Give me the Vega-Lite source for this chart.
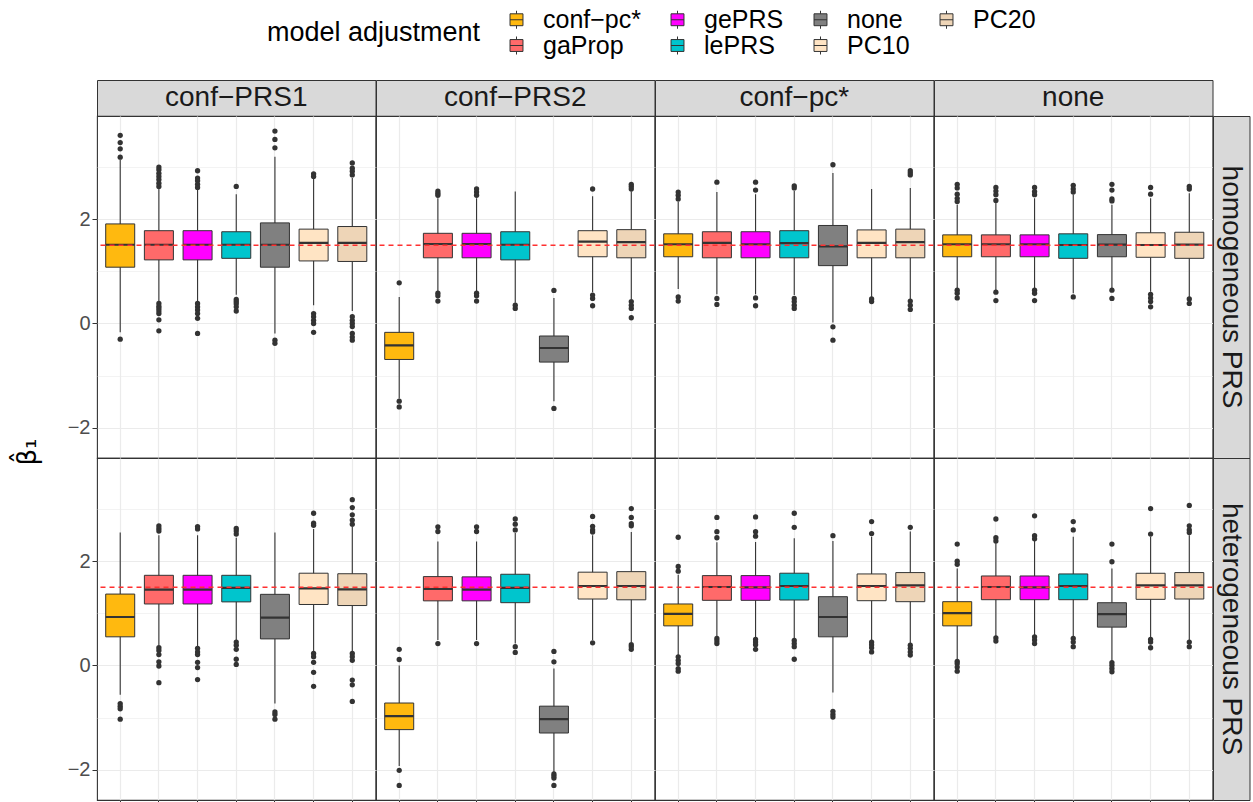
{
"$schema": "https://vega.github.io/schema/vega-lite/v6.json",
"background": "white",
"padding": {"left": 14, "top": 7, "right": 4, "bottom": 0},
"bounds": "flush",
"align": "each",
"columns": 5,
"spacing": 0,
"resolve": {"scale": {"color": "shared"}},
"datasets": {
"boxes": [
{"prs":"hom","conf":"conf-PRS1","adj":"conf-pc*","lo":-0.17,"q1":1.08,"med":1.51,"q3":1.91,"hi":3.14,"out":[3.61,3.47,3.35,3.19,-0.30]},
{"prs":"hom","conf":"conf-PRS1","adj":"gaProp","lo":0.42,"q1":1.22,"med":1.51,"q3":1.78,"hi":2.58,"out":[3.0,2.95,2.88,2.82,2.76,2.69,2.63,0.385,0.33,0.29,0.24,0.19,0.07,-0.14]},
{"prs":"hom","conf":"conf-PRS1","adj":"gePRS","lo":0.43,"q1":1.22,"med":1.51,"q3":1.78,"hi":2.56,"out":[2.93,2.79,2.74,2.67,2.61,0.385,0.32,0.26,0.19,0.10,-0.19]},
{"prs":"hom","conf":"conf-PRS1","adj":"lePRS","lo":0.55,"q1":1.25,"med":1.51,"q3":1.76,"hi":2.48,"out":[2.63,0.46,0.42,0.38,0.32,0.24]},
{"prs":"hom","conf":"conf-PRS1","adj":"none","lo":-0.19,"q1":1.08,"med":1.51,"q3":1.93,"hi":3.2,"out":[3.69,3.53,3.37,-0.32,-0.38]},
{"prs":"hom","conf":"conf-PRS1","adj":"PC10","lo":0.35,"q1":1.2,"med":1.545,"q3":1.81,"hi":2.79,"out":[2.87,2.82,0.19,0.13,0.06,0.0,-0.17]},
{"prs":"hom","conf":"conf-PRS1","adj":"PC20","lo":0.24,"q1":1.19,"med":1.545,"q3":1.86,"hi":2.79,"out":[3.08,2.98,2.92,2.85,0.13,0.06,0.0,-0.06,-0.19,-0.26,-0.32]},
{"prs":"hom","conf":"conf-PRS2","adj":"conf-pc*","lo":-1.44,"q1":-0.69,"med":-0.42,"q3":-0.17,"hi":0.51,"out":[0.78,-1.49,-1.60]},
{"prs":"hom","conf":"conf-PRS2","adj":"gaProp","lo":0.61,"q1":1.26,"med":1.525,"q3":1.73,"hi":2.40,"out":[2.54,2.50,2.46,0.58,0.53,0.43]},
{"prs":"hom","conf":"conf-PRS2","adj":"gePRS","lo":0.61,"q1":1.26,"med":1.525,"q3":1.73,"hi":2.40,"out":[2.58,2.52,2.46,0.58,0.53,0.43]},
{"prs":"hom","conf":"conf-PRS2","adj":"lePRS","lo":0.40,"q1":1.22,"med":1.51,"q3":1.76,"hi":2.53,"out":[0.35,0.29]},
{"prs":"hom","conf":"conf-PRS2","adj":"none","lo":-1.49,"q1":-0.74,"med":-0.47,"q3":-0.24,"hi":0.49,"out":[0.635,-1.63]},
{"prs":"hom","conf":"conf-PRS2","adj":"PC10","lo":0.60,"q1":1.28,"med":1.57,"q3":1.78,"hi":2.44,"out":[2.58,0.545,0.48,0.34]},
{"prs":"hom","conf":"conf-PRS2","adj":"PC20","lo":0.47,"q1":1.26,"med":1.56,"q3":1.80,"hi":2.53,"out":[2.67,2.63,2.58,0.42,0.35,0.29,0.11]},
{"prs":"hom","conf":"conf-pc*","adj":"conf-pc*","lo":0.66,"q1":1.28,"med":1.52,"q3":1.72,"hi":2.34,"out":[2.52,2.46,2.39,0.51,0.43]},
{"prs":"hom","conf":"conf-pc*","adj":"gaProp","lo":0.56,"q1":1.26,"med":1.545,"q3":1.76,"hi":2.52,"out":[2.71,0.48,0.365]},
{"prs":"hom","conf":"conf-pc*","adj":"gePRS","lo":0.56,"q1":1.26,"med":1.52,"q3":1.76,"hi":2.48,"out":[2.71,2.56,0.49,0.34]},
{"prs":"hom","conf":"conf-pc*","adj":"lePRS","lo":0.545,"q1":1.26,"med":1.54,"q3":1.78,"hi":2.545,"out":[2.64,2.60,0.48,0.42,0.35,0.29]},
{"prs":"hom","conf":"conf-pc*","adj":"none","lo":0.02,"q1":1.11,"med":1.48,"q3":1.88,"hi":2.885,"out":[3.045,-0.064,-0.32]},
{"prs":"hom","conf":"conf-pc*","adj":"PC10","lo":0.51,"q1":1.26,"med":1.545,"q3":1.795,"hi":2.58,"out":[0.47,0.42]},
{"prs":"hom","conf":"conf-pc*","adj":"PC20","lo":0.47,"q1":1.26,"med":1.56,"q3":1.81,"hi":2.6,"out":[2.93,2.89,2.85,0.43,0.35,0.27]},
{"prs":"hom","conf":"none","adj":"conf-pc*","lo":0.67,"q1":1.28,"med":1.52,"q3":1.70,"hi":2.28,"out":[2.67,2.6,2.48,2.4,2.34,0.64,0.58,0.49]},
{"prs":"hom","conf":"none","adj":"gaProp","lo":0.64,"q1":1.28,"med":1.52,"q3":1.70,"hi":2.33,"out":[2.61,2.54,2.47,2.36,0.6,0.44]},
{"prs":"hom","conf":"none","adj":"gePRS","lo":0.67,"q1":1.28,"med":1.52,"q3":1.70,"hi":2.4,"out":[2.61,2.53,2.47,0.64,0.58,0.44]},
{"prs":"hom","conf":"none","adj":"lePRS","lo":0.58,"q1":1.25,"med":1.506,"q3":1.72,"hi":2.47,"out":[2.65,2.58,2.52,0.51]},
{"prs":"hom","conf":"none","adj":"none","lo":0.67,"q1":1.28,"med":1.513,"q3":1.705,"hi":2.28,"out":[2.67,2.56,2.39,2.35,0.64,0.48]},
{"prs":"hom","conf":"none","adj":"PC10","lo":0.61,"q1":1.27,"med":1.506,"q3":1.74,"hi":2.4,"out":[2.61,2.48,0.56,0.49,0.42,0.32]},
{"prs":"hom","conf":"none","adj":"PC20","lo":0.51,"q1":1.25,"med":1.513,"q3":1.75,"hi":2.5,"out":[2.63,2.58,0.47,0.385]},
{"prs":"het","conf":"conf-PRS1","adj":"conf-pc*","lo":-0.56,"q1":0.55,"med":0.93,"q3":1.37,"hi":2.55,"out":[-0.73,-0.78,-0.83,-1.03]},
{"prs":"het","conf":"conf-PRS1","adj":"gaProp","lo":0.39,"q1":1.18,"med":1.455,"q3":1.73,"hi":2.5,"out":[2.68,2.63,2.58,0.34,0.29,0.21,0.07,-0.01,-0.33]},
{"prs":"het","conf":"conf-PRS1","adj":"gePRS","lo":0.36,"q1":1.18,"med":1.455,"q3":1.73,"hi":2.5,"out":[2.665,2.62,0.33,0.26,0.21,0.06,-0.04,-0.27]},
{"prs":"het","conf":"conf-PRS1","adj":"lePRS","lo":0.49,"q1":1.22,"med":1.487,"q3":1.73,"hi":2.45,"out":[2.63,2.58,2.52,0.45,0.39,0.31,0.12,0.02]},
{"prs":"het","conf":"conf-PRS1","adj":"none","lo":-0.73,"q1":0.51,"med":0.92,"q3":1.365,"hi":2.55,"out":[-0.89,-0.94,-1.03]},
{"prs":"het","conf":"conf-PRS1","adj":"PC10","lo":0.26,"q1":1.17,"med":1.48,"q3":1.77,"hi":2.62,"out":[2.92,2.73,2.69,0.23,0.17,0.06,-0.13,-0.4]},
{"prs":"het","conf":"conf-PRS1","adj":"PC20","lo":0.26,"q1":1.15,"med":1.46,"q3":1.76,"hi":2.67,"out":[3.18,3.03,2.89,2.79,2.71,0.23,0.17,0.1,-0.28,-0.37,-0.69]},
{"prs":"het","conf":"conf-PRS2","adj":"conf-pc*","lo":-1.93,"q1":-1.23,"med":-0.97,"q3":-0.72,"hi":0.0,"out":[0.31,0.115,-2.01,-2.3]},
{"prs":"het","conf":"conf-PRS2","adj":"gaProp","lo":0.49,"q1":1.24,"med":1.467,"q3":1.705,"hi":2.38,"out":[2.66,2.57,0.42]},
{"prs":"het","conf":"conf-PRS2","adj":"gePRS","lo":0.49,"q1":1.24,"med":1.455,"q3":1.70,"hi":2.38,"out":[2.66,2.57,0.42]},
{"prs":"het","conf":"conf-PRS2","adj":"lePRS","lo":0.42,"q1":1.205,"med":1.487,"q3":1.75,"hi":2.54,"out":[2.81,2.71,2.6,0.36,0.25]},
{"prs":"het","conf":"conf-PRS2","adj":"none","lo":-2.05,"q1":-1.295,"med":-1.03,"q3":-0.78,"hi":-0.06,"out":[0.27,0.07,-2.08,-2.12,-2.16,-2.3]},
{"prs":"het","conf":"conf-PRS2","adj":"PC10","lo":0.49,"q1":1.275,"med":1.525,"q3":1.79,"hi":2.5,"out":[2.86,2.67,2.6,2.56,0.435]},
{"prs":"het","conf":"conf-PRS2","adj":"PC20","lo":0.45,"q1":1.26,"med":1.525,"q3":1.8,"hi":2.56,"out":[3.01,2.84,2.72,2.68,0.4,0.36,0.31]},
{"prs":"het","conf":"conf-pc*","adj":"conf-pc*","lo":0.2,"q1":0.76,"med":0.99,"q3":1.18,"hi":1.74,"out":[2.46,1.9,1.81,0.166,0.1,0.04,-0.06,-0.11]},
{"prs":"het","conf":"conf-pc*","adj":"gaProp","lo":0.55,"q1":1.25,"med":1.506,"q3":1.724,"hi":2.365,"out":[2.84,2.566,2.45,0.52,0.47,0.42]},
{"prs":"het","conf":"conf-pc*","adj":"gePRS","lo":0.52,"q1":1.25,"med":1.5,"q3":1.724,"hi":2.37,"out":[2.85,2.566,2.48,0.5,0.45,0.4,0.31]},
{"prs":"het","conf":"conf-pc*","adj":"lePRS","lo":0.52,"q1":1.256,"med":1.525,"q3":1.77,"hi":2.44,"out":[2.92,2.65,0.48,0.42,0.36,0.12]},
{"prs":"het","conf":"conf-pc*","adj":"none","lo":-0.52,"q1":0.55,"med":0.93,"q3":1.32,"hi":2.39,"out":[2.49,-0.88,-0.94,-0.99]},
{"prs":"het","conf":"conf-pc*","adj":"PC10","lo":0.49,"q1":1.243,"med":1.525,"q3":1.756,"hi":2.47,"out":[2.76,2.53,0.45,0.4,0.34,0.26]},
{"prs":"het","conf":"conf-pc*","adj":"PC20","lo":0.42,"q1":1.224,"med":1.538,"q3":1.782,"hi":2.57,"out":[2.65,0.39,0.33,0.26,0.2]},
{"prs":"het","conf":"none","adj":"conf-pc*","lo":0.12,"q1":0.76,"med":1.006,"q3":1.224,"hi":1.86,"out":[2.33,2.0,1.94,0.08,0.04,-0.03,-0.11]},
{"prs":"het","conf":"none","adj":"gaProp","lo":0.55,"q1":1.262,"med":1.506,"q3":1.717,"hi":2.365,"out":[2.81,2.45,2.39,0.53,0.47]},
{"prs":"het","conf":"none","adj":"gePRS","lo":0.58,"q1":1.262,"med":1.5,"q3":1.717,"hi":2.39,"out":[2.87,2.49,2.43,0.55,0.49,0.42]},
{"prs":"het","conf":"none","adj":"lePRS","lo":0.55,"q1":1.262,"med":1.525,"q3":1.756,"hi":2.47,"out":[2.76,2.6,0.52,0.45,0.36]},
{"prs":"het","conf":"none","adj":"none","lo":0.08,"q1":0.736,"med":0.987,"q3":1.204,"hi":1.86,"out":[2.33,1.99,0.057,0.006,-0.058,-0.12]},
{"prs":"het","conf":"none","adj":"PC10","lo":0.53,"q1":1.269,"med":1.538,"q3":1.769,"hi":2.47,"out":[3.01,2.52,0.5,0.45,0.34]},
{"prs":"het","conf":"none","adj":"PC20","lo":0.49,"q1":1.275,"med":1.538,"q3":1.782,"hi":2.5,"out":[3.07,2.68,2.6,2.55,0.45,0.36]}
]
},
"concat": [
{"width":278.5,"height":36,"data":{"values":[{"label":"conf−PRS1"}]},"mark":{"type":"text","fontSize":28,"color":"#1A1A1A"},"encoding":{"text":{"field":"label","type":"nominal"}},"view":{"fill":"#D9D9D9","stroke":"#333333"}},
{"width":278.5,"height":36,"data":{"values":[{"label":"conf−PRS2"}]},"mark":{"type":"text","fontSize":28,"color":"#1A1A1A"},"encoding":{"text":{"field":"label","type":"nominal"}},"view":{"fill":"#D9D9D9","stroke":"#333333"}},
{"width":278.5,"height":36,"data":{"values":[{"label":"conf−pc*"}]},"mark":{"type":"text","fontSize":28,"color":"#1A1A1A"},"encoding":{"text":{"field":"label","type":"nominal"}},"view":{"fill":"#D9D9D9","stroke":"#333333"}},
{"width":278.5,"height":36,"data":{"values":[{"label":"none"}]},"mark":{"type":"text","fontSize":28,"color":"#1A1A1A"},"encoding":{"text":{"field":"label","type":"nominal"}},"view":{"fill":"#D9D9D9","stroke":"#333333"}},
{"width":36.5,"height":36,"data":{"values":[{"label":""}]},"mark":{"type":"text"},"encoding":{"text":{"field":"label","type":"nominal"}},"view":{"stroke":null}},

{"width":278.5,"height":342,"data":{"name":"boxes"},"transform":[{"filter":"datum.prs === 'hom' && datum.conf === 'conf-PRS1'"}],
"layer":[
{"mark":{"type":"rule","color":"#333333","strokeWidth":1.1},"encoding":{"x":{"field":"adj","type":"nominal","title":null,"scale":{"domain":["conf-pc*","gaProp","gePRS","lePRS","none","PC10","PC20"],"paddingInner":0.25,"paddingOuter":0.225},"axis":{"labels":false,"ticks":false,"grid":true,"gridWidth":1.2}},"y":{"field":"lo","type":"quantitative","scale":{"domain":[-2.58,3.98],"nice":false,"zero":false},"axis":{"values":[-2,-1,0,1,2,3],"grid":true,"labelExpr":"datum.value % 2 === 0 ? datum.label : ''","tickOpacity":{"condition":{"test":"datum.value % 2 !== 0","value":0},"value":1},"gridWidth":{"condition":{"test":"datum.value % 2 !== 0","value":0.6},"value":1.2},"title":null}},"y2":{"field":"hi"}}},
{"mark":{"type":"bar","stroke":"#333333","strokeWidth":1},"encoding":{"x":{"field":"adj","type":"nominal","scale":{"domain":["conf-pc*","gaProp","gePRS","lePRS","none","PC10","PC20"],"paddingInner":0.25,"paddingOuter":0.225}},"y":{"field":"q1","type":"quantitative","scale":{"domain":[-2.58,3.98],"nice":false,"zero":false}},"y2":{"field":"q3"},"color":{"field":"adj","type":"nominal","title":"model adjustment","scale":{"domain":["conf-pc*","gePRS","none","PC20","gaProp","lePRS","PC10"],"range":["#FFB90F","#FF00FF","#808080","#EED5B7","#FF6A6A","#00C5CD","#FFE4C4"]},"legend":{"labelExpr":"replace(datum.label, '-', '−')"}}}},
{"mark":{"type":"bar","stroke":"#333333","strokeWidth":2.2,"fillOpacity":0},"encoding":{"x":{"field":"adj","type":"nominal","scale":{"domain":["conf-pc*","gaProp","gePRS","lePRS","none","PC10","PC20"],"paddingInner":0.25,"paddingOuter":0.225}},"y":{"field":"med","type":"quantitative","scale":{"domain":[-2.58,3.98],"nice":false,"zero":false}},"y2":{"field":"med"}}},
{"transform":[{"flatten":["out"]}],"mark":{"type":"point","shape":"circle","filled":true,"color":"#333333","size":28,"opacity":1},"encoding":{"x":{"field":"adj","type":"nominal","scale":{"domain":["conf-pc*","gaProp","gePRS","lePRS","none","PC10","PC20"],"paddingInner":0.25,"paddingOuter":0.225}},"y":{"field":"out","type":"quantitative","scale":{"domain":[-2.58,3.98],"nice":false,"zero":false}}}},
{"transform":[{"filter":"datum.adj === 'conf-pc*'"}],"mark":{"type":"rule","color":"#FF3030","strokeDash":[5,4],"strokeWidth":1.5},"encoding":{"y":{"datum":1.5,"type":"quantitative","scale":{"domain":[-2.58,3.98],"nice":false,"zero":false}}}},
{"transform":[{"filter":"datum.adj === 'conf-pc*'"}],"mark":{"type":"text","angle":270,"font":"DejaVu Sans","fontSize":26,"color":"#000000","align":"center","baseline":"middle","dx":6,"dy":-92},"encoding":{"text":{"value":"β̂₁"},"x":{"field":"adj","type":"nominal","scale":{"domain":["conf-pc*","gaProp","gePRS","lePRS","none","PC10","PC20"],"paddingInner":0.25,"paddingOuter":0.225}},"y":{"datum":-2.58,"type":"quantitative","scale":{"domain":[-2.58,3.98],"nice":false,"zero":false}}}}
]},

{"width":278.5,"height":342,"data":{"name":"boxes"},"transform":[{"filter":"datum.prs === 'hom' && datum.conf === 'conf-PRS2'"}],
"layer":[
{"mark":{"type":"rule","color":"#333333","strokeWidth":1.1},"encoding":{"x":{"field":"adj","type":"nominal","title":null,"scale":{"domain":["conf-pc*","gaProp","gePRS","lePRS","none","PC10","PC20"],"paddingInner":0.25,"paddingOuter":0.225},"axis":{"labels":false,"ticks":false,"grid":true,"gridWidth":1.2}},"y":{"field":"lo","type":"quantitative","scale":{"domain":[-2.58,3.98],"nice":false,"zero":false},"axis":{"values":[-2,-1,0,1,2,3],"grid":true,"labels":false,"ticks":false,"gridWidth":{"condition":{"test":"datum.value % 2 !== 0","value":0.6},"value":1.2},"title":null}},"y2":{"field":"hi"}}},
{"mark":{"type":"bar","stroke":"#333333","strokeWidth":1},"encoding":{"x":{"field":"adj","type":"nominal","scale":{"domain":["conf-pc*","gaProp","gePRS","lePRS","none","PC10","PC20"],"paddingInner":0.25,"paddingOuter":0.225}},"y":{"field":"q1","type":"quantitative","scale":{"domain":[-2.58,3.98],"nice":false,"zero":false}},"y2":{"field":"q3"},"color":{"field":"adj","type":"nominal","title":"model adjustment","scale":{"domain":["conf-pc*","gePRS","none","PC20","gaProp","lePRS","PC10"],"range":["#FFB90F","#FF00FF","#808080","#EED5B7","#FF6A6A","#00C5CD","#FFE4C4"]},"legend":{"labelExpr":"replace(datum.label, '-', '−')"}}}},
{"mark":{"type":"bar","stroke":"#333333","strokeWidth":2.2,"fillOpacity":0},"encoding":{"x":{"field":"adj","type":"nominal","scale":{"domain":["conf-pc*","gaProp","gePRS","lePRS","none","PC10","PC20"],"paddingInner":0.25,"paddingOuter":0.225}},"y":{"field":"med","type":"quantitative","scale":{"domain":[-2.58,3.98],"nice":false,"zero":false}},"y2":{"field":"med"}}},
{"transform":[{"flatten":["out"]}],"mark":{"type":"point","shape":"circle","filled":true,"color":"#333333","size":28,"opacity":1},"encoding":{"x":{"field":"adj","type":"nominal","scale":{"domain":["conf-pc*","gaProp","gePRS","lePRS","none","PC10","PC20"],"paddingInner":0.25,"paddingOuter":0.225}},"y":{"field":"out","type":"quantitative","scale":{"domain":[-2.58,3.98],"nice":false,"zero":false}}}},
{"transform":[{"filter":"datum.adj === 'conf-pc*'"}],"mark":{"type":"rule","color":"#FF3030","strokeDash":[5,4],"strokeWidth":1.5},"encoding":{"y":{"datum":1.5,"type":"quantitative","scale":{"domain":[-2.58,3.98],"nice":false,"zero":false}}}}
]},

{"width":278.5,"height":342,"data":{"name":"boxes"},"transform":[{"filter":"datum.prs === 'hom' && datum.conf === 'conf-pc*'"}],
"layer":[
{"mark":{"type":"rule","color":"#333333","strokeWidth":1.1},"encoding":{"x":{"field":"adj","type":"nominal","title":null,"scale":{"domain":["conf-pc*","gaProp","gePRS","lePRS","none","PC10","PC20"],"paddingInner":0.25,"paddingOuter":0.225},"axis":{"labels":false,"ticks":false,"grid":true,"gridWidth":1.2}},"y":{"field":"lo","type":"quantitative","scale":{"domain":[-2.58,3.98],"nice":false,"zero":false},"axis":{"values":[-2,-1,0,1,2,3],"grid":true,"labels":false,"ticks":false,"gridWidth":{"condition":{"test":"datum.value % 2 !== 0","value":0.6},"value":1.2},"title":null}},"y2":{"field":"hi"}}},
{"mark":{"type":"bar","stroke":"#333333","strokeWidth":1},"encoding":{"x":{"field":"adj","type":"nominal","scale":{"domain":["conf-pc*","gaProp","gePRS","lePRS","none","PC10","PC20"],"paddingInner":0.25,"paddingOuter":0.225}},"y":{"field":"q1","type":"quantitative","scale":{"domain":[-2.58,3.98],"nice":false,"zero":false}},"y2":{"field":"q3"},"color":{"field":"adj","type":"nominal","title":"model adjustment","scale":{"domain":["conf-pc*","gePRS","none","PC20","gaProp","lePRS","PC10"],"range":["#FFB90F","#FF00FF","#808080","#EED5B7","#FF6A6A","#00C5CD","#FFE4C4"]},"legend":{"labelExpr":"replace(datum.label, '-', '−')"}}}},
{"mark":{"type":"bar","stroke":"#333333","strokeWidth":2.2,"fillOpacity":0},"encoding":{"x":{"field":"adj","type":"nominal","scale":{"domain":["conf-pc*","gaProp","gePRS","lePRS","none","PC10","PC20"],"paddingInner":0.25,"paddingOuter":0.225}},"y":{"field":"med","type":"quantitative","scale":{"domain":[-2.58,3.98],"nice":false,"zero":false}},"y2":{"field":"med"}}},
{"transform":[{"flatten":["out"]}],"mark":{"type":"point","shape":"circle","filled":true,"color":"#333333","size":28,"opacity":1},"encoding":{"x":{"field":"adj","type":"nominal","scale":{"domain":["conf-pc*","gaProp","gePRS","lePRS","none","PC10","PC20"],"paddingInner":0.25,"paddingOuter":0.225}},"y":{"field":"out","type":"quantitative","scale":{"domain":[-2.58,3.98],"nice":false,"zero":false}}}},
{"transform":[{"filter":"datum.adj === 'conf-pc*'"}],"mark":{"type":"rule","color":"#FF3030","strokeDash":[5,4],"strokeWidth":1.5},"encoding":{"y":{"datum":1.5,"type":"quantitative","scale":{"domain":[-2.58,3.98],"nice":false,"zero":false}}}}
]},

{"width":278.5,"height":342,"data":{"name":"boxes"},"transform":[{"filter":"datum.prs === 'hom' && datum.conf === 'none'"}],
"layer":[
{"mark":{"type":"rule","color":"#333333","strokeWidth":1.1},"encoding":{"x":{"field":"adj","type":"nominal","title":null,"scale":{"domain":["conf-pc*","gaProp","gePRS","lePRS","none","PC10","PC20"],"paddingInner":0.25,"paddingOuter":0.225},"axis":{"labels":false,"ticks":false,"grid":true,"gridWidth":1.2}},"y":{"field":"lo","type":"quantitative","scale":{"domain":[-2.58,3.98],"nice":false,"zero":false},"axis":{"values":[-2,-1,0,1,2,3],"grid":true,"labels":false,"ticks":false,"gridWidth":{"condition":{"test":"datum.value % 2 !== 0","value":0.6},"value":1.2},"title":null}},"y2":{"field":"hi"}}},
{"mark":{"type":"bar","stroke":"#333333","strokeWidth":1},"encoding":{"x":{"field":"adj","type":"nominal","scale":{"domain":["conf-pc*","gaProp","gePRS","lePRS","none","PC10","PC20"],"paddingInner":0.25,"paddingOuter":0.225}},"y":{"field":"q1","type":"quantitative","scale":{"domain":[-2.58,3.98],"nice":false,"zero":false}},"y2":{"field":"q3"},"color":{"field":"adj","type":"nominal","title":"model adjustment","scale":{"domain":["conf-pc*","gePRS","none","PC20","gaProp","lePRS","PC10"],"range":["#FFB90F","#FF00FF","#808080","#EED5B7","#FF6A6A","#00C5CD","#FFE4C4"]},"legend":{"labelExpr":"replace(datum.label, '-', '−')"}}}},
{"mark":{"type":"bar","stroke":"#333333","strokeWidth":2.2,"fillOpacity":0},"encoding":{"x":{"field":"adj","type":"nominal","scale":{"domain":["conf-pc*","gaProp","gePRS","lePRS","none","PC10","PC20"],"paddingInner":0.25,"paddingOuter":0.225}},"y":{"field":"med","type":"quantitative","scale":{"domain":[-2.58,3.98],"nice":false,"zero":false}},"y2":{"field":"med"}}},
{"transform":[{"flatten":["out"]}],"mark":{"type":"point","shape":"circle","filled":true,"color":"#333333","size":28,"opacity":1},"encoding":{"x":{"field":"adj","type":"nominal","scale":{"domain":["conf-pc*","gaProp","gePRS","lePRS","none","PC10","PC20"],"paddingInner":0.25,"paddingOuter":0.225}},"y":{"field":"out","type":"quantitative","scale":{"domain":[-2.58,3.98],"nice":false,"zero":false}}}},
{"transform":[{"filter":"datum.adj === 'conf-pc*'"}],"mark":{"type":"rule","color":"#FF3030","strokeDash":[5,4],"strokeWidth":1.5},"encoding":{"y":{"datum":1.5,"type":"quantitative","scale":{"domain":[-2.58,3.98],"nice":false,"zero":false}}}}
]},

{"width":36.5,"height":342,"data":{"values":[{"label":"homogeneous PRS"}]},"mark":{"type":"text","fontSize":28,"angle":90,"color":"#1A1A1A"},"encoding":{"text":{"field":"label","type":"nominal"}},"view":{"fill":"#D9D9D9","stroke":"#333333"}},

{"width":278.5,"height":342,"data":{"name":"boxes"},"transform":[{"filter":"datum.prs === 'het' && datum.conf === 'conf-PRS1'"}],
"layer":[
{"mark":{"type":"rule","color":"#333333","strokeWidth":1.1},"encoding":{"x":{"field":"adj","type":"nominal","title":null,"scale":{"domain":["conf-pc*","gaProp","gePRS","lePRS","none","PC10","PC20"],"paddingInner":0.25,"paddingOuter":0.225},"axis":{"labels":false,"ticks":true,"tickSize":4,"grid":true,"gridWidth":1.2}},"y":{"field":"lo","type":"quantitative","scale":{"domain":[-2.58,3.98],"nice":false,"zero":false},"axis":{"values":[-2,-1,0,1,2,3],"grid":true,"labelExpr":"datum.value % 2 === 0 ? datum.label : ''","tickOpacity":{"condition":{"test":"datum.value % 2 !== 0","value":0},"value":1},"gridWidth":{"condition":{"test":"datum.value % 2 !== 0","value":0.6},"value":1.2},"title":null}},"y2":{"field":"hi"}}},
{"mark":{"type":"bar","stroke":"#333333","strokeWidth":1},"encoding":{"x":{"field":"adj","type":"nominal","scale":{"domain":["conf-pc*","gaProp","gePRS","lePRS","none","PC10","PC20"],"paddingInner":0.25,"paddingOuter":0.225}},"y":{"field":"q1","type":"quantitative","scale":{"domain":[-2.58,3.98],"nice":false,"zero":false}},"y2":{"field":"q3"},"color":{"field":"adj","type":"nominal","title":"model adjustment","scale":{"domain":["conf-pc*","gePRS","none","PC20","gaProp","lePRS","PC10"],"range":["#FFB90F","#FF00FF","#808080","#EED5B7","#FF6A6A","#00C5CD","#FFE4C4"]},"legend":{"labelExpr":"replace(datum.label, '-', '−')"}}}},
{"mark":{"type":"bar","stroke":"#333333","strokeWidth":2.2,"fillOpacity":0},"encoding":{"x":{"field":"adj","type":"nominal","scale":{"domain":["conf-pc*","gaProp","gePRS","lePRS","none","PC10","PC20"],"paddingInner":0.25,"paddingOuter":0.225}},"y":{"field":"med","type":"quantitative","scale":{"domain":[-2.58,3.98],"nice":false,"zero":false}},"y2":{"field":"med"}}},
{"transform":[{"flatten":["out"]}],"mark":{"type":"point","shape":"circle","filled":true,"color":"#333333","size":28,"opacity":1},"encoding":{"x":{"field":"adj","type":"nominal","scale":{"domain":["conf-pc*","gaProp","gePRS","lePRS","none","PC10","PC20"],"paddingInner":0.25,"paddingOuter":0.225}},"y":{"field":"out","type":"quantitative","scale":{"domain":[-2.58,3.98],"nice":false,"zero":false}}}},
{"transform":[{"filter":"datum.adj === 'conf-pc*'"}],"mark":{"type":"rule","color":"#FF3030","strokeDash":[5,4],"strokeWidth":1.5},"encoding":{"y":{"datum":1.5,"type":"quantitative","scale":{"domain":[-2.58,3.98],"nice":false,"zero":false}}}}
]},

{"width":278.5,"height":342,"data":{"name":"boxes"},"transform":[{"filter":"datum.prs === 'het' && datum.conf === 'conf-PRS2'"}],
"layer":[
{"mark":{"type":"rule","color":"#333333","strokeWidth":1.1},"encoding":{"x":{"field":"adj","type":"nominal","title":null,"scale":{"domain":["conf-pc*","gaProp","gePRS","lePRS","none","PC10","PC20"],"paddingInner":0.25,"paddingOuter":0.225},"axis":{"labels":false,"ticks":true,"tickSize":4,"grid":true,"gridWidth":1.2}},"y":{"field":"lo","type":"quantitative","scale":{"domain":[-2.58,3.98],"nice":false,"zero":false},"axis":{"values":[-2,-1,0,1,2,3],"grid":true,"labels":false,"ticks":false,"gridWidth":{"condition":{"test":"datum.value % 2 !== 0","value":0.6},"value":1.2},"title":null}},"y2":{"field":"hi"}}},
{"mark":{"type":"bar","stroke":"#333333","strokeWidth":1},"encoding":{"x":{"field":"adj","type":"nominal","scale":{"domain":["conf-pc*","gaProp","gePRS","lePRS","none","PC10","PC20"],"paddingInner":0.25,"paddingOuter":0.225}},"y":{"field":"q1","type":"quantitative","scale":{"domain":[-2.58,3.98],"nice":false,"zero":false}},"y2":{"field":"q3"},"color":{"field":"adj","type":"nominal","title":"model adjustment","scale":{"domain":["conf-pc*","gePRS","none","PC20","gaProp","lePRS","PC10"],"range":["#FFB90F","#FF00FF","#808080","#EED5B7","#FF6A6A","#00C5CD","#FFE4C4"]},"legend":{"labelExpr":"replace(datum.label, '-', '−')"}}}},
{"mark":{"type":"bar","stroke":"#333333","strokeWidth":2.2,"fillOpacity":0},"encoding":{"x":{"field":"adj","type":"nominal","scale":{"domain":["conf-pc*","gaProp","gePRS","lePRS","none","PC10","PC20"],"paddingInner":0.25,"paddingOuter":0.225}},"y":{"field":"med","type":"quantitative","scale":{"domain":[-2.58,3.98],"nice":false,"zero":false}},"y2":{"field":"med"}}},
{"transform":[{"flatten":["out"]}],"mark":{"type":"point","shape":"circle","filled":true,"color":"#333333","size":28,"opacity":1},"encoding":{"x":{"field":"adj","type":"nominal","scale":{"domain":["conf-pc*","gaProp","gePRS","lePRS","none","PC10","PC20"],"paddingInner":0.25,"paddingOuter":0.225}},"y":{"field":"out","type":"quantitative","scale":{"domain":[-2.58,3.98],"nice":false,"zero":false}}}},
{"transform":[{"filter":"datum.adj === 'conf-pc*'"}],"mark":{"type":"rule","color":"#FF3030","strokeDash":[5,4],"strokeWidth":1.5},"encoding":{"y":{"datum":1.5,"type":"quantitative","scale":{"domain":[-2.58,3.98],"nice":false,"zero":false}}}}
]},

{"width":278.5,"height":342,"data":{"name":"boxes"},"transform":[{"filter":"datum.prs === 'het' && datum.conf === 'conf-pc*'"}],
"layer":[
{"mark":{"type":"rule","color":"#333333","strokeWidth":1.1},"encoding":{"x":{"field":"adj","type":"nominal","title":null,"scale":{"domain":["conf-pc*","gaProp","gePRS","lePRS","none","PC10","PC20"],"paddingInner":0.25,"paddingOuter":0.225},"axis":{"labels":false,"ticks":true,"tickSize":4,"grid":true,"gridWidth":1.2}},"y":{"field":"lo","type":"quantitative","scale":{"domain":[-2.58,3.98],"nice":false,"zero":false},"axis":{"values":[-2,-1,0,1,2,3],"grid":true,"labels":false,"ticks":false,"gridWidth":{"condition":{"test":"datum.value % 2 !== 0","value":0.6},"value":1.2},"title":null}},"y2":{"field":"hi"}}},
{"mark":{"type":"bar","stroke":"#333333","strokeWidth":1},"encoding":{"x":{"field":"adj","type":"nominal","scale":{"domain":["conf-pc*","gaProp","gePRS","lePRS","none","PC10","PC20"],"paddingInner":0.25,"paddingOuter":0.225}},"y":{"field":"q1","type":"quantitative","scale":{"domain":[-2.58,3.98],"nice":false,"zero":false}},"y2":{"field":"q3"},"color":{"field":"adj","type":"nominal","title":"model adjustment","scale":{"domain":["conf-pc*","gePRS","none","PC20","gaProp","lePRS","PC10"],"range":["#FFB90F","#FF00FF","#808080","#EED5B7","#FF6A6A","#00C5CD","#FFE4C4"]},"legend":{"labelExpr":"replace(datum.label, '-', '−')"}}}},
{"mark":{"type":"bar","stroke":"#333333","strokeWidth":2.2,"fillOpacity":0},"encoding":{"x":{"field":"adj","type":"nominal","scale":{"domain":["conf-pc*","gaProp","gePRS","lePRS","none","PC10","PC20"],"paddingInner":0.25,"paddingOuter":0.225}},"y":{"field":"med","type":"quantitative","scale":{"domain":[-2.58,3.98],"nice":false,"zero":false}},"y2":{"field":"med"}}},
{"transform":[{"flatten":["out"]}],"mark":{"type":"point","shape":"circle","filled":true,"color":"#333333","size":28,"opacity":1},"encoding":{"x":{"field":"adj","type":"nominal","scale":{"domain":["conf-pc*","gaProp","gePRS","lePRS","none","PC10","PC20"],"paddingInner":0.25,"paddingOuter":0.225}},"y":{"field":"out","type":"quantitative","scale":{"domain":[-2.58,3.98],"nice":false,"zero":false}}}},
{"transform":[{"filter":"datum.adj === 'conf-pc*'"}],"mark":{"type":"rule","color":"#FF3030","strokeDash":[5,4],"strokeWidth":1.5},"encoding":{"y":{"datum":1.5,"type":"quantitative","scale":{"domain":[-2.58,3.98],"nice":false,"zero":false}}}}
]},

{"width":278.5,"height":342,"data":{"name":"boxes"},"transform":[{"filter":"datum.prs === 'het' && datum.conf === 'none'"}],
"layer":[
{"mark":{"type":"rule","color":"#333333","strokeWidth":1.1},"encoding":{"x":{"field":"adj","type":"nominal","title":null,"scale":{"domain":["conf-pc*","gaProp","gePRS","lePRS","none","PC10","PC20"],"paddingInner":0.25,"paddingOuter":0.225},"axis":{"labels":false,"ticks":true,"tickSize":4,"grid":true,"gridWidth":1.2}},"y":{"field":"lo","type":"quantitative","scale":{"domain":[-2.58,3.98],"nice":false,"zero":false},"axis":{"values":[-2,-1,0,1,2,3],"grid":true,"labels":false,"ticks":false,"gridWidth":{"condition":{"test":"datum.value % 2 !== 0","value":0.6},"value":1.2},"title":null}},"y2":{"field":"hi"}}},
{"mark":{"type":"bar","stroke":"#333333","strokeWidth":1},"encoding":{"x":{"field":"adj","type":"nominal","scale":{"domain":["conf-pc*","gaProp","gePRS","lePRS","none","PC10","PC20"],"paddingInner":0.25,"paddingOuter":0.225}},"y":{"field":"q1","type":"quantitative","scale":{"domain":[-2.58,3.98],"nice":false,"zero":false}},"y2":{"field":"q3"},"color":{"field":"adj","type":"nominal","title":"model adjustment","scale":{"domain":["conf-pc*","gePRS","none","PC20","gaProp","lePRS","PC10"],"range":["#FFB90F","#FF00FF","#808080","#EED5B7","#FF6A6A","#00C5CD","#FFE4C4"]},"legend":{"labelExpr":"replace(datum.label, '-', '−')"}}}},
{"mark":{"type":"bar","stroke":"#333333","strokeWidth":2.2,"fillOpacity":0},"encoding":{"x":{"field":"adj","type":"nominal","scale":{"domain":["conf-pc*","gaProp","gePRS","lePRS","none","PC10","PC20"],"paddingInner":0.25,"paddingOuter":0.225}},"y":{"field":"med","type":"quantitative","scale":{"domain":[-2.58,3.98],"nice":false,"zero":false}},"y2":{"field":"med"}}},
{"transform":[{"flatten":["out"]}],"mark":{"type":"point","shape":"circle","filled":true,"color":"#333333","size":28,"opacity":1},"encoding":{"x":{"field":"adj","type":"nominal","scale":{"domain":["conf-pc*","gaProp","gePRS","lePRS","none","PC10","PC20"],"paddingInner":0.25,"paddingOuter":0.225}},"y":{"field":"out","type":"quantitative","scale":{"domain":[-2.58,3.98],"nice":false,"zero":false}}}},
{"transform":[{"filter":"datum.adj === 'conf-pc*'"}],"mark":{"type":"rule","color":"#FF3030","strokeDash":[5,4],"strokeWidth":1.5},"encoding":{"y":{"datum":1.5,"type":"quantitative","scale":{"domain":[-2.58,3.98],"nice":false,"zero":false}}}}
]},

{"width":36.5,"height":342,"data":{"values":[{"label":"heterogeneous PRS"}]},"mark":{"type":"text","fontSize":28,"angle":90,"color":"#1A1A1A"},"encoding":{"text":{"field":"label","type":"nominal"}},"view":{"fill":"#D9D9D9","stroke":"#333333"}}
],
"config": {
 "font": "Liberation Sans",
 "view": {"stroke": "#333333", "strokeWidth": 1.1},
 "axis": {"domain": false, "gridColor": "#EBEBEB", "tickColor": "#333333", "tickSize": 5, "tickWidth": 1, "labelColor": "#4D4D4D", "labelFontSize": 20, "labelFont": "Liberation Sans", "labelPadding": 2},
 "legend": {"orient": "none", "legendX": 170, "legendY": -73, "columns": 4, "direction": "horizontal",
   "titleOrient": "left", "titleAnchor": "middle", "titleBaseline": "middle", "titleFontSize": 27, "titleFontWeight": "normal", "titleColor": "#000000", "titleFont": "Liberation Sans", "titlePadding": 23, "titleLimit": 400,
   "labelFontSize": 25, "labelColor": "#000000", "labelFont": "Liberation Sans", "labelOffset": 14, "labelLimit": 300,
   "columnPadding": 24, "rowPadding": 0,
   "symbolType": "M-0.72,-0.66H0.72V0.66H-0.72Z M-0.72,0H0.72 M0,-0.66V-1 M0,0.66V1", "symbolSize": 324, "symbolStrokeColor": "#333333", "symbolStrokeWidth": 1, "symbolOpacity": 1}
}
}
